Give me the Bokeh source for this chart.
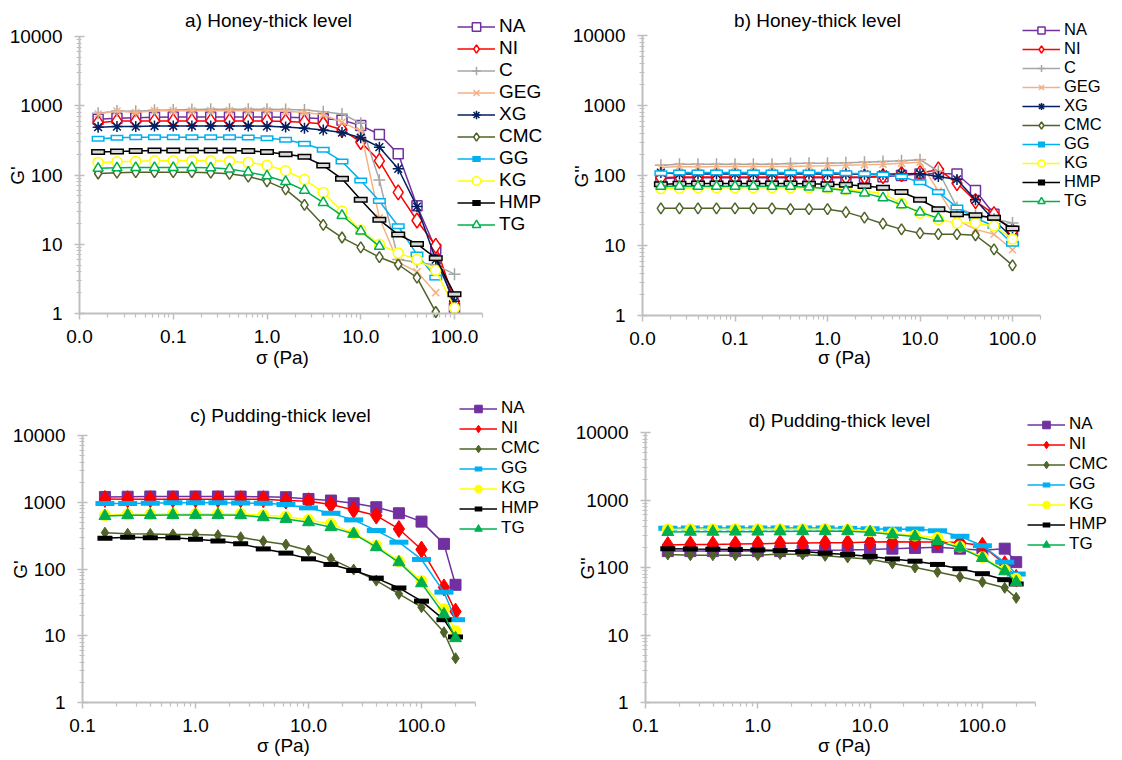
import math
from bokeh.plotting import figure
from bokeh.layouts import column, row
from bokeh.models import FixedTicker, Legend, LegendItem, Label, Range1d
from bokeh.embed import file_html
from bokeh.resources import INLINE

# ---------------- data ----------------
stress_honey = [0.0158, 0.0251, 0.0398, 0.0631, 0.1, 0.158, 0.251, 0.398, 0.631, 1.0,
                1.58, 2.51, 3.98, 6.31, 10.0, 15.8, 25.1, 39.8, 63.1, 100.0]
stress_pudding = [0.158, 0.251, 0.398, 0.631, 1.0, 1.58, 2.51, 3.98, 6.31, 10.0,
                  15.8, 25.1, 39.8, 63.1, 100.0, 158.0, 200.0]

# a) G' honey-thick
a_NA = [640, 660, 670, 680, 690, 690, 690, 690, 690, 690, 680, 670, 650, 620, 520, 385, 202, 36, 8.5, 1.2]
a_NI = [570, 600, 600, 600, 600, 600, 600, 600, 600, 600, 590, 580, 545, 450, 300, 160, 56, 22, 9.5, 1.5]
a_C = [780, 840, 830, 860, 870, 880, 890, 890, 890, 890, 880, 870, 820, 760, 560, 85, 6.0, 5.5, 5.0, 3.7]
a_GEG = [760, 840, 800, 850, 850, 850, 850, 850, 850, 850, 830, 800, 740, 580, 430, 24, 5.5, 4.0, 2.0]
a_XG = [490, 500, 500, 510, 510, 510, 510, 510, 510, 505, 495, 475, 445, 410, 345, 252, 123, 35, 6.0, 1.5]
a_CMC = [105, 108, 110, 110, 110, 110, 108, 104, 95, 81, 62, 37, 19, 12.5, 9.0, 6.5, 5.1, 3.3, 1.05]
a_GG = [335, 345, 350, 350, 350, 350, 350, 350, 348, 340, 323, 282, 231, 157, 83, 42, 18.2, 7.1, 3.3]
a_KG = [152, 155, 158, 160, 160, 160, 160, 158, 152, 138, 115, 86, 56, 30, 16, 10, 7.5, 6.0, 4.2, 1.2]
a_HMP = [215, 218, 222, 225, 226, 226, 226, 225, 222, 215, 200, 183, 137, 88, 44, 22.5, 13.8, 10.1, 6.3, 1.9]
a_TG = [125, 127, 128, 128, 128, 128, 127, 122, 110, 97, 80, 60, 40, 26, 15.5, 9.3]

# b) G'' honey-thick
b_NA = [90, 93, 93, 93, 93, 93, 93, 93, 93, 93, 93, 94, 96, 100, 105, 107, 105, 61, 28, 16]
b_NI = [93, 95, 95, 95, 95, 95, 95, 95, 95, 95, 95, 96, 98, 105, 108, 122, 78, 43, 28, 16]
b_C = [140, 145, 145, 145, 145, 145, 145, 148, 150, 150, 152, 155, 158, 162, 168, 115, 35, 27, 24, 21]
b_GEG = [130, 135, 132, 135, 135, 135, 135, 135, 137, 138, 140, 142, 145, 150, 155, 60, 23, 17, 14.5, 8.7]
b_XG = [110, 105, 105, 105, 105, 105, 105, 105, 105, 105, 105, 104, 104, 106, 106, 97, 88, 45, 23, 13]
b_CMC = [34, 34, 34, 34, 34, 34, 34, 33, 33, 33, 30, 25, 20.5, 17, 15, 14.5, 14.5, 14, 8.8, 5.2]
b_GG = [108, 110, 110, 110, 110, 110, 110, 110, 110, 110, 108, 106, 103, 97, 80, 58, 35, 24.5, 19, 10.6]
b_KG = [65, 66, 67, 67, 67, 67, 67, 67, 67, 66, 63, 60, 55, 40, 29, 23.5, 21, 21, 19, 12.4]
b_HMP = [75, 76, 77, 77, 77, 77, 77, 77, 76, 75, 74, 71, 67, 58, 45, 33, 28, 27, 25, 17.5]
b_TG = [70, 70, 70, 70, 70, 70, 70, 70, 68, 65, 61, 56, 48, 38, 30, 24.6]

# c) G' pudding-thick
c_NA = [1200, 1210, 1220, 1220, 1220, 1220, 1216, 1210, 1190, 1120, 1060, 966, 842, 684, 513, 238, 58]
c_NI = [1120, 1110, 1110, 1110, 1110, 1110, 1110, 1110, 1060, 1035, 923, 768, 631, 398, 196, 53, 23]
c_CMC = [350, 337, 335, 330, 330, 320, 299, 261, 233, 189, 142, 98, 67, 42.5, 26.8, 11.3, 4.6]
c_GG = [960, 960, 970, 980, 980, 980, 975, 966, 923, 823, 684, 544, 377, 252, 139, 45, 17.4]
c_KG = [640, 660, 660, 665, 665, 665, 668, 640, 610, 544, 474, 343, 225, 131, 66, 25, 11.7]
c_HMP = [290, 300, 295, 295, 280, 262, 238, 200, 173, 142, 117, 95, 73, 52, 33, 17.4, 9.6]
c_TG = [620, 640, 640, 645, 645, 645, 640, 596, 562, 501, 423, 336, 212, 126, 61, 21, 9.2]

# d) G'' pudding-thick
d_NA = [175, 175, 175, 175, 175, 175, 178, 180, 182, 185, 190, 195, 200, 190, 180, 190, 120]
d_NI = [215, 220, 220, 222, 225, 228, 230, 232, 232, 238, 240, 238, 238, 235, 210, 112, 70]
d_CMC = [156, 152, 152, 152, 152, 158, 156, 149, 141, 133, 115, 100, 86, 73, 61, 50, 35.5]
d_GG = [380, 385, 385, 385, 385, 385, 385, 385, 380, 375, 370, 372, 350, 290, 210, 120, 80]
d_KG = [367, 368, 368, 368, 368, 368, 368, 370, 362, 345, 322, 298, 275, 204, 142, 92, 68]
d_HMP = [190, 188, 187, 185, 182, 178, 172, 163, 156, 146, 134, 124, 111, 96, 81, 66, 57]
d_TG = [335, 338, 338, 340, 340, 342, 345, 345, 345, 334, 308, 288, 246, 196, 138, 88, 61]

honey_names = ["NA", "NI", "C", "GEG", "XG", "CMC", "GG", "KG", "HMP", "TG"]
pudding_names = ["NA", "NI", "CMC", "GG", "KG", "HMP", "TG"]

y_ticks = [1.0, 10.0, 100.0, 1000.0, 10000.0]
y_tick_labels = ["1", "10", "100", "1000", "10000"]
x_ticks_honey = [0.01, 0.1, 1.0, 10.0, 100.0]
x_labels_honey = ["0.0", "0.1", "1.0", "10.0", "100.0"]
x_ticks_pudding = [0.1, 1.0, 10.0, 100.0]
x_labels_pudding = ["0.1", "1.0", "10.0", "100.0"]

# ---------------- style ----------------
FONT = "Liberation Sans"
FS = "19px"
AX = "#BFBFBF"

COLORS = {"NA": "#7030A0", "NI": "#FF0000", "C": "#A6A6A6", "GEG": "#F4B183",
          "XG": "#002060", "CMC": "#4F6228", "GG": "#00B0F0", "KG": "#FFFF00",
          "HMP": "#000000", "TG": "#00B050"}

OPEN = {"NA": ("square", 10), "NI": ("diamond", 15), "C": ("cross", 12),
        "GEG": ("x", 10), "XG": ("asterisk", 11), "CMC": ("diamond", 11),
        "GG": ("dash", 13), "KG": ("circle", 10), "HMP": ("dash", 14),
        "TG": ("triangle", 10)}
FILLED = {"NA": ("square", 11), "NI": ("diamond", 17), "CMC": ("diamond", 11),
          "GG": ("dash", 19), "KG": ("circle", 11), "HMP": ("dash", 15),
          "TG": ("triangle", 12)}
DASH_INNER = {"GG": "#FFFFFF", "HMP": "#D9D9D9"}


def minor_list(k0, k1, extra=()):
    return [m * 10.0 ** k for k in range(k0, k1) for m in range(2, 10)] + list(extra)


def make_fig(s):
    W, H = s["w"], s["h"]
    # pixel geometry of the plotting area (figure-relative) -> log ranges
    x0v, x0p, dx = s["x_anchor"]       # value at pixel, pixels per decade
    y0p, dy = s["y_anchor"]            # pixel of value 1, pixels per decade
    xr = Range1d(x0v * 10 ** (-x0p / dx), x0v * 10 ** ((W - x0p) / dx))
    yr = Range1d(10 ** (-(H - y0p) / dy), 10 ** (y0p / dy))
    p = figure(width=W, height=H, x_axis_type="log", y_axis_type="log",
               x_range=xr, y_range=yr, output_backend="svg",
               toolbar_location=None, title=None)
    p.min_border = 0
    p.min_border_left = 0
    p.min_border_right = 0
    p.min_border_top = 0
    p.min_border_bottom = 0
    p.outline_line_color = None
    p.xgrid.visible = False
    p.ygrid.visible = False
    p.background_fill_color = "white"
    p.border_fill_color = "white"
    p.xaxis.fixed_location = 1.0
    p.yaxis.fixed_location = s["xb"][0]
    p.xaxis.bounds = s["xb"]
    p.yaxis.bounds = (1.0, 10000.0)
    p.xaxis.ticker = FixedTicker(ticks=s["xt"], minor_ticks=s["xminor"])
    p.yaxis.ticker = FixedTicker(ticks=y_ticks, minor_ticks=minor_list(0, 4))
    p.xaxis.major_label_overrides = dict(zip(s["xt"], s["xl"]))
    p.yaxis.major_label_overrides = dict(zip(y_ticks, y_tick_labels))
    for ax in (p.xaxis, p.yaxis):
        ax.axis_line_color = AX
        ax.axis_line_width = 2
        ax.major_tick_line_color = AX
        ax.minor_tick_line_color = AX
        ax.major_tick_line_width = 1.5
        ax.minor_tick_line_width = 1.2
        ax.major_label_text_font = FONT
        ax.major_label_text_font_size = FS
        ax.major_label_text_color = "black"
    p.yaxis.major_tick_in = 5
    p.yaxis.major_tick_out = 5
    p.yaxis.minor_tick_in = 2
    p.yaxis.minor_tick_out = 3
    p.yaxis.major_label_standoff = 12
    p.xaxis.major_tick_in = 0
    p.xaxis.major_tick_out = 6
    p.xaxis.minor_tick_in = 0
    p.xaxis.minor_tick_out = 4
    p.xaxis.major_label_standoff = 10
    return p


def add_series(p, name, xs, ys, filled):
    col = COLORS[name]
    xs = xs[:len(ys)]
    line_r = p.line(xs, ys, line_color=col, line_width=1.5)
    marker, size = (FILLED if filled else OPEN)[name]
    if marker == "dash":
        mk = p.scatter(xs, ys, marker="dash", size=size, line_color=col,
                       line_width=6 if not filled else 5)
        if not filled:
            p.scatter(xs, ys, marker="dash", size=size - 3,
                      line_color=DASH_INNER[name], line_width=3)
    elif marker in ("cross", "x", "asterisk"):
        mk = p.scatter(xs, ys, marker=marker, size=size, line_color=col,
                       line_width=1.5)
    else:
        mk = p.scatter(xs, ys, marker=marker, size=size, line_color=col,
                       line_width=1.5 if not filled else 1,
                       fill_color=col if filled else "white")
    return LegendItem(label=name, renderers=[line_r, mk])


def add_text(p, text, X, Y, H, angle=0.0):
    # X, Y: figure-relative pixel position (from top-left) of the text centre
    p.add_layout(Label(x=X, y=H - Y, x_units="screen", y_units="screen",
                       text=text, angle=angle, text_align="center",
                       text_baseline="middle", text_font=FONT,
                       text_font_size=FS, text_color="black"))


def build(s):
    p = make_fig(s)
    H = s["h"]
    items = [add_series(p, n, s["xs"], s["data"][n], s["filled"]) for n in s["names"]]
    lx, lbottom = s["legend_bl"]
    leg = Legend(items=items, location=(lx, H - lbottom), orientation="vertical",
                 glyph_width=38, glyph_height=s["row_h"], label_height=s["row_h"],
                 spacing=0, padding=0, margin=0,
                 label_standoff=4, border_line_alpha=0, background_fill_alpha=0,
                 label_text_font=FONT, label_text_font_size=s["legend_fs"],
                 label_text_color="black")
    p.add_layout(leg)
    add_text(p, s["title"], *s["title_pos"], H)
    add_text(p, s["ylabel"], *s["ylabel_pos"], H, angle=math.pi / 2)
    add_text(p, "\u03c3 (Pa)", *s["xlabel_pos"], H)
    return p


honey_x_minor = minor_list(-2, 2, [200.0])
pudding_x_minor = minor_list(-1, 2, [200.0, 300.0])

pa = build(dict(w=560, h=390, x_anchor=(0.01, 79, 93.75), y_anchor=(313, 69.25),
                xb=(0.01, 200.0), xt=x_ticks_honey, xl=x_labels_honey,
                xminor=honey_x_minor, xs=stress_honey, names=honey_names, filled=False,
                data=dict(NA=a_NA, NI=a_NI, C=a_C, GEG=a_GEG, XG=a_XG, CMC=a_CMC,
                          GG=a_GG, KG=a_KG, HMP=a_HMP, TG=a_TG),
                legend_bl=(457, 235), row_h=21, legend_fs="19px",
                title="a) Honey-thick level", title_pos=(268, 20),
                ylabel="G'", ylabel_pos=(17, 175), xlabel_pos=(282, 357)))

pb = build(dict(w=562, h=390, x_anchor=(0.01, 82, 92.5), y_anchor=(315, 70.0),
                xb=(0.01, 200.0), xt=x_ticks_honey, xl=x_labels_honey,
                xminor=honey_x_minor, xs=stress_honey, names=honey_names, filled=False,
                data=dict(NA=b_NA, NI=b_NI, C=b_C, GEG=b_GEG, XG=b_XG, CMC=b_CMC,
                          GG=b_GG, KG=b_KG, HMP=b_HMP, TG=b_TG),
                legend_bl=(462, 210), row_h=18, legend_fs="16.5px",
                title="b) Honey-thick level", title_pos=(257, 20),
                ylabel="G''", ylabel_pos=(21, 176), xlabel_pos=(284, 357)))

pc = build(dict(w=560, h=370, x_anchor=(0.1, 82, 113.0), y_anchor=(312, 66.75),
                xb=(0.1, 300.0), xt=x_ticks_pudding, xl=x_labels_pudding,
                xminor=pudding_x_minor, xs=stress_pudding, names=pudding_names, filled=True,
                data=dict(NA=c_NA, NI=c_NI, CMC=c_CMC, GG=c_GG, KG=c_KG,
                          HMP=c_HMP, TG=c_TG),
                legend_bl=(459, 148), row_h=19, legend_fs="17px",
                title="c) Pudding-thick level", title_pos=(280, 25),
                ylabel="G'", ylabel_pos=(20, 179), xlabel_pos=(283, 355)))

pd_ = build(dict(w=562, h=370, x_anchor=(0.1, 85, 112.3), y_anchor=(312, 67.5),
                 xb=(0.1, 300.0), xt=x_ticks_pudding, xl=x_labels_pudding,
                 xminor=pudding_x_minor, xs=stress_pudding, names=pudding_names, filled=True,
                 data=dict(NA=d_NA, NI=d_NI, CMC=d_CMC, GG=d_GG, KG=d_KG,
                           HMP=d_HMP, TG=d_TG),
                 legend_bl=(467, 164), row_h=19, legend_fs="17px",
                 title="d) Pudding-thick level", title_pos=(279, 30),
                 ylabel="G''", ylabel_pos=(27, 178), xlabel_pos=(284, 355)))

layout = column(row(pa, pb, spacing=0), row(pc, pd_, spacing=0), spacing=0)

open("out.html", "w").write(file_html(layout, INLINE))
